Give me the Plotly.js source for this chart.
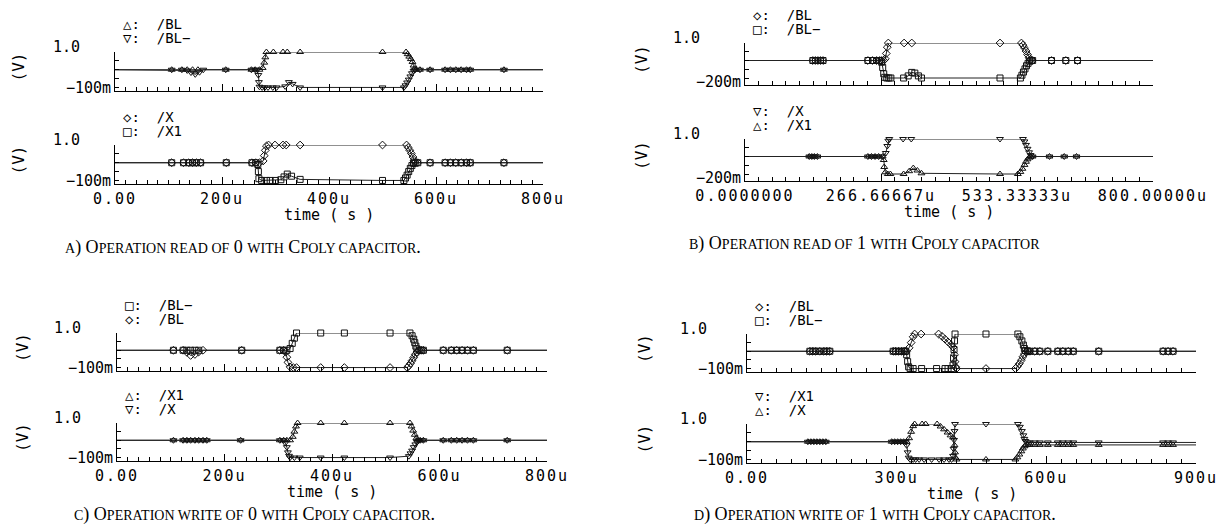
<!DOCTYPE html>
<html><head><meta charset="utf-8">
<script src="https://cdn.plot.ly/plotly-3.0.1.min.js"></script>
<style>html,body{margin:0;padding:0;background:#fff}</style>
</head><body><div id="chart" style="width:1231px;height:529px"></div>
<script>
// ---------------- DATA (time in µs, voltage in V) ----------------
const NAME_BL = '/BL', NAME_BLB = '/BL−', NAME_X = '/X', NAME_X1 = '/X1';
const X_TITLE = 'time ( s )', Y_TITLE = '(V)';

const A_X_TICKS = [0, 200, 400, 600, 800];
const A_X_LABELS = ['0.00', '200u', '400u', '600u', '800u'];
const B_X_TICKS = [0, 266.66667, 533.33333, 800];
const B_X_LABELS = ['0.0000000', '266.66667u', '533.33333u', '800.00000u'];
const C_X_TICKS = [0, 200, 400, 600, 800];
const C_X_LABELS = ['0.00', '200u', '400u', '600u', '800u'];
const D_X_TICKS = [0, 300, 600, 900];
const D_X_LABELS = ['0.00', '300u', '600u', '900u'];
const Y_TICKS_100 = [-0.1, 1.0], Y_LABELS_100 = ['−100m', '1.0'];
const Y_TICKS_200 = [-0.2, 1.0], Y_LABELS_200 = ['−200m', '1.0'];

const CAP_A = 'a) Operation read of 0 with Cpoly capacitor.';
const CAP_B = 'b) Operation read of 1 with Cpoly capacitor';
const CAP_C = 'c) Operation write of 0 with Cpoly capacitor.';
const CAP_D = 'd) Operation write of 1 with Cpoly capacitor.';

// A) read 0 — top: /BL, /BL−
const A_T_BL = [106,125,135,145,155,207,255,262,270,276,279,281,283,296,314,322,346,500,544,547,550,553,556,558,560,563,570,589,617,627,637,647,657,664,727];
const A_V_BL = [0.5,0.5,0.5,0.5,0.5,0.5,0.5,0.5,0.5,0.55,0.7,0.85,1.0,1.0,1.0,1.0,1.0,1.0,1.0,0.94,0.87,0.8,0.72,0.62,0.53,0.5,0.5,0.5,0.5,0.5,0.5,0.5,0.5,0.5,0.5];
const A_T_BLB = [106,125,135,142,150,158,165,207,255,262,266,268,269,270,275,280,286,295,302,318,325,332,346,500,540,543,546,549,552,555,558,561,570,589,617,627,637,647,657,664,727];
const A_V_BLB = [0.5,0.5,0.48,0.42,0.37,0.43,0.5,0.5,0.5,0.5,0.5,0.35,0.15,0.02,0.0,0.0,0.0,0.0,0.0,0.03,0.15,0.1,0.0,0.0,0.0,0.06,0.14,0.22,0.31,0.4,0.47,0.5,0.5,0.5,0.5,0.5,0.5,0.5,0.5,0.5,0.5];
// A) bottom: /X, /X1
const A_T_X = [106,128,138,145,152,160,208,256,263,270,277,279,281,283,287,299,314,320,346,500,545,548,551,554,557,559,561,566,589,617,627,637,647,657,664,727];
const A_V_X = [0.5,0.5,0.5,0.5,0.5,0.5,0.5,0.5,0.5,0.5,0.55,0.7,0.85,0.97,1.0,1.0,1.0,1.0,1.0,1.0,1.0,0.93,0.85,0.76,0.66,0.57,0.51,0.5,0.5,0.5,0.5,0.5,0.5,0.5,0.5,0.5];
const A_T_X1 = [106,128,138,145,152,160,208,256,263,267,268,269,274,283,290,300,310,316,322,330,346,500,540,543,546,549,552,555,558,561,566,589,617,627,637,647,657,664,727];
const A_V_X1 = [0.5,0.5,0.5,0.5,0.5,0.5,0.5,0.5,0.5,0.45,0.25,0.05,0.0,0.0,0.0,0.0,0.02,0.1,0.18,0.12,0.03,0.0,0.0,0.07,0.15,0.25,0.34,0.42,0.48,0.5,0.5,0.5,0.5,0.5,0.5,0.5,0.5,0.5,0.5];

// B) read 1 — top: /BL, /BL−
const B_T_BL = [133,138,143,148,153,241,250,258,264,268,272,275,277,279,281,312,327,500,542,545,548,551,554,557,560,564,601,629,652];
const B_V_BL = [0.5,0.5,0.5,0.5,0.5,0.5,0.5,0.5,0.5,0.5,0.5,0.55,0.7,0.88,1.0,1.0,1.0,1.0,1.0,0.94,0.86,0.77,0.67,0.58,0.52,0.5,0.5,0.5,0.5];
const B_T_BLB = [133,138,143,148,153,241,250,258,264,268,270,272,274,278,282,286,311,320,327,333,340,346,500,540,543,546,549,552,555,558,561,564,601,629,652];
const B_V_BLB = [0.5,0.5,0.5,0.5,0.5,0.5,0.5,0.5,0.5,0.45,0.3,0.12,0.02,0.0,0.0,0.0,0.0,0.06,0.16,0.14,0.06,0.0,0.0,0.0,0.08,0.17,0.26,0.35,0.42,0.48,0.5,0.5,0.5,0.5,0.5];
// B) bottom: /X, /X1
const B_T_X = [126,131,136,142,241,248,255,262,270,276,279,281,283,310,326,500,545,548,551,554,557,560,564,597,626,650];
const B_V_X = [0.5,0.5,0.5,0.5,0.5,0.5,0.5,0.5,0.5,0.6,0.8,0.95,1.0,1.0,1.0,1.0,1.0,0.93,0.83,0.72,0.62,0.54,0.5,0.5,0.5,0.5];
const B_T_X1 = [126,131,136,142,241,248,255,262,270,272,273,275,280,285,311,322,330,338,346,500,535,540,544,548,551,554,557,560,564,597,626,650];
const B_V_X1 = [0.5,0.5,0.5,0.5,0.5,0.5,0.5,0.5,0.5,0.4,0.2,0.05,0.0,0.0,0.0,0.08,0.17,0.1,0.02,0.0,0.0,0.06,0.15,0.26,0.35,0.42,0.47,0.5,0.5,0.5,0.5,0.5];

// C) write 0 — top: /BL−, /BL
const C_T_BLB = [105,123,130,137,145,152,232,303,310,316,322,326,330,334,379,423,508,545,549,552,554,556,558,562,566,570,607,622,632,642,652,663,726];
const C_V_BLB = [0.5,0.5,0.5,0.5,0.5,0.5,0.5,0.5,0.5,0.5,0.55,0.7,0.85,1.0,1.0,1.0,1.0,1.0,0.92,0.82,0.72,0.62,0.54,0.5,0.5,0.5,0.5,0.5,0.5,0.5,0.5,0.5,0.5];
const C_T_BL = [105,123,130,137,145,152,160,232,303,310,314,316,318,322,328,334,379,423,508,540,543,546,549,552,555,558,562,566,570,607,622,632,642,652,663,726];
const C_V_BL = [0.5,0.5,0.44,0.35,0.38,0.45,0.5,0.5,0.5,0.5,0.45,0.3,0.15,0.02,0.0,0.0,0.0,0.0,0.0,0.0,0.05,0.12,0.2,0.29,0.38,0.45,0.5,0.5,0.5,0.5,0.5,0.5,0.5,0.5,0.5,0.5];
// C) bottom: /X1, /X
const C_T_X1 = [105,123,130,137,145,152,160,167,230,303,310,316,322,327,330,333,336,379,423,508,545,548,551,554,557,560,564,570,607,622,632,642,652,663,726];
const C_V_X1 = [0.5,0.5,0.5,0.5,0.5,0.5,0.5,0.5,0.5,0.5,0.5,0.5,0.5,0.6,0.75,0.9,1.0,1.0,1.0,1.0,1.0,0.9,0.78,0.66,0.56,0.5,0.5,0.5,0.5,0.5,0.5,0.5,0.5,0.5,0.5];
const C_T_X = [105,123,130,137,145,152,160,167,230,303,310,313,316,318,320,322,330,340,379,423,508,543,546,549,552,555,558,561,564,570,607,622,632,642,652,663,726];
const C_V_X = [0.5,0.5,0.5,0.5,0.5,0.5,0.5,0.5,0.5,0.5,0.5,0.42,0.3,0.15,0.05,0.0,0.0,0.0,0.0,0.0,0.0,0.04,0.12,0.2,0.3,0.38,0.45,0.5,0.5,0.5,0.5,0.5,0.5,0.5,0.5,0.5,0.5];

// D) write 1 — top: /BL, /BL−
const D_T_BL = [126,132,138,146,154,160,166,293,298,304,310,315,320,325,329,333,336,349,384,391,397,403,409,413,416,417,418,420,479,538,542,546,550,553,556,559,563,567,577,587,603,623,633,644,654,705,834,844,854];
const D_V_BL = [0.5,0.5,0.5,0.5,0.5,0.5,0.5,0.5,0.5,0.5,0.5,0.5,0.5,0.6,0.75,0.92,1.0,1.0,1.0,0.93,0.85,0.77,0.69,0.62,0.4,0.2,0.05,0.0,0.0,0.0,0.06,0.14,0.24,0.34,0.42,0.48,0.5,0.5,0.5,0.5,0.5,0.5,0.5,0.5,0.5,0.5,0.5,0.5,0.5];
const D_T_BLB = [126,132,138,146,154,160,166,293,298,304,310,315,318,320,322,324,327,333,350,380,397,403,410,413,414,415,416,417,479,543,547,551,554,556,558,562,567,577,587,603,623,633,644,654,705,834,844,854];
const D_V_BLB = [0.5,0.5,0.5,0.5,0.5,0.5,0.5,0.5,0.5,0.5,0.5,0.5,0.5,0.4,0.2,0.05,0.0,0.0,0.0,0.0,0.0,0.0,0.0,0.1,0.3,0.55,0.8,1.0,1.0,1.0,0.92,0.8,0.68,0.58,0.52,0.5,0.5,0.5,0.5,0.5,0.5,0.5,0.5,0.5,0.5,0.5,0.5,0.5];
// D) bottom: /X1, /X
const D_T_X1 = [122,128,134,140,146,152,158,290,296,302,308,314,318,320,322,324,327,333,338,345,355,370,385,395,405,410,413,414,415,416,417,479,543,547,551,554,556,558,562,567,577,587,603,623,633,644,654,705,834,844,854];
const D_V_X1 = [0.5,0.5,0.5,0.5,0.5,0.5,0.5,0.5,0.5,0.5,0.5,0.5,0.5,0.4,0.2,0.05,0.0,0.0,0.0,0.0,0.0,0.0,0.0,0.0,0.0,0.0,0.1,0.3,0.55,0.8,1.0,1.0,1.0,0.92,0.8,0.68,0.58,0.52,0.48,0.48,0.48,0.48,0.48,0.48,0.48,0.48,0.48,0.48,0.48,0.48,0.48];
const D_T_X = [122,128,134,140,146,152,158,290,296,302,308,314,320,325,329,333,336,351,358,381,388,395,402,408,413,416,417,418,420,479,538,542,546,550,553,556,559,563,567,577,587,603,623,633,644,654,705,834,844,854];
const D_V_X = [0.5,0.5,0.5,0.5,0.5,0.5,0.5,0.5,0.5,0.5,0.5,0.5,0.5,0.6,0.78,0.94,1.0,1.0,1.0,1.0,0.93,0.85,0.76,0.68,0.62,0.4,0.2,0.05,0.0,0.0,0.0,0.06,0.14,0.23,0.31,0.37,0.4,0.41,0.41,0.41,0.41,0.41,0.41,0.41,0.41,0.41,0.41,0.41,0.41,0.41];

// ---------------- LAYOUT / DRAWING ----------------
const W = 1231, H = 529;
const fx = x => x / W, fy = y => 1 - y / H;
const MONO = 'DejaVu Sans Mono, monospace';
const SERIF = 'Liberation Serif, Times New Roman, serif';
const GLYPH = {'triangle-up': '△', 'triangle-down': '▽', 'diamond': '◇', 'square': '□'};

const panels = [
  {left:115, right:543, rows:[[52,91],[145,184]], xTicks:A_X_TICKS, xLabels:A_X_LABELS, minorX:20,
   yTicks:Y_TICKS_100, yLabels:Y_LABELS_100, oneShift:-33, vX:18, cap:CAP_A, capX:63, capY:247,
   series:[[{t:A_T_BL,v:A_V_BL,n:NAME_BL,s:'triangle-up'},{t:A_T_BLB,v:A_V_BLB,n:NAME_BLB,s:'triangle-down'}],
           [{t:A_T_X,v:A_V_X,n:NAME_X,s:'diamond'},{t:A_T_X1,v:A_V_X1,n:NAME_X1,s:'square'}]]},
  {left:745, right:1153, rows:[[43,85],[139,181]], xTicks:B_X_TICKS, xLabels:B_X_LABELS, minorX:26.666667,
   yTicks:Y_TICKS_200, yLabels:Y_LABELS_200, oneShift:-43, vX:642, cap:CAP_B, capX:687, capY:244,
   series:[[{t:B_T_BL,v:B_V_BL,n:NAME_BL,s:'diamond'},{t:B_T_BLB,v:B_V_BLB,n:NAME_BLB,s:'square'}],
           [{t:B_T_X,v:B_V_X,n:NAME_X,s:'triangle-down'},{t:B_T_X1,v:B_V_X1,n:NAME_X1,s:'triangle-up'}]]},
  {left:117, right:547, rows:[[333,371],[423,461]], xTicks:C_X_TICKS, xLabels:C_X_LABELS, minorX:20,
   yTicks:Y_TICKS_100, yLabels:Y_LABELS_100, oneShift:-34, vX:22, cap:CAP_C, capX:72, capY:514,
   series:[[{t:C_T_BLB,v:C_V_BLB,n:NAME_BLB,s:'square'},{t:C_T_BL,v:C_V_BL,n:NAME_BL,s:'diamond'}],
           [{t:C_T_X1,v:C_V_X1,n:NAME_X1,s:'triangle-up'},{t:C_T_X,v:C_V_X,n:NAME_X,s:'triangle-down'}]]},
  {left:747, right:1196, rows:[[334,372],[424,463]], xTicks:D_X_TICKS, xLabels:D_X_LABELS, minorX:30,
   yTicks:Y_TICKS_100, yLabels:Y_LABELS_100, oneShift:-38, vX:644, cap:CAP_D, capX:692, capY:514,
   series:[[{t:D_T_BL,v:D_V_BL,n:NAME_BL,s:'diamond'},{t:D_T_BLB,v:D_V_BLB,n:NAME_BLB,s:'square'}],
           [{t:D_T_X1,v:D_V_X1,n:NAME_X1,s:'triangle-down'},{t:D_T_X,v:D_V_X,n:NAME_X,s:'triangle-up'}]]}
];

function smallCaps(s, small) {
  let out = '', i = 0;
  const isLow = c => c !== c.toUpperCase();
  while (i < s.length) {
    if (isLow(s[i])) {
      let j = i; while (j < s.length && (isLow(s[j]) || (s[j] === ' ' && j + 1 < s.length && isLow(s[j + 1])))) j++;
      out += '<span style="font-size:' + small + 'px">' + s.slice(i, j).toUpperCase() + '</span>';
      i = j;
    } else { out += s[i]; i++; }
  }
  return out;
}

const data = [], layout = {
  width: W, height: H, margin: {l:0, r:0, t:0, b:0}, showlegend: false,
  paper_bgcolor: '#fff', plot_bgcolor: '#fff', annotations: []
};
const ann = layout.annotations;
let k = 0;
panels.forEach(p => {
  const xMax = p.xTicks[p.xTicks.length - 1];
  p.rows.forEach((row, ri) => {
    k++;
    const xa = 'xaxis' + (k > 1 ? k : ''), ya = 'yaxis' + (k > 1 ? k : '');
    const xr = 'x' + (k > 1 ? k : ''), yr = 'y' + (k > 1 ? k : '');
    layout[xa] = {
      domain: [fx(p.left), fx(p.right)], anchor: yr, range: [0, xMax],
      showline: true, linecolor: '#000', linewidth: 1, showgrid: false, zeroline: false,
      tickmode: 'array', tickvals: p.xTicks,
      ticktext: p.xLabels.map(s => '<span style="letter-spacing:2px">' + s + '</span>'),
      showticklabels: ri === 1, ticks: 'inside', ticklen: 7, tickcolor: '#000', tickwidth: 1,
      ticklabelstandoff: 1,
      tickfont: {family: MONO, size: 15, color: '#000'},
      minor: {tickmode: 'linear', tick0: 0, dtick: p.minorX, ticks: 'inside', ticklen: 4, tickcolor: '#000', tickwidth: 1, showgrid: false},
      fixedrange: true
    };
    layout[ya] = {
      domain: [fy(row[1]), fy(row[0])], anchor: xr, range: [p.yTicks[0], p.yTicks[1]],
      showline: true, linecolor: '#000', linewidth: 1, showgrid: false, zeroline: false,
      tickmode: 'array', tickvals: p.yTicks, showticklabels: false,
      ticks: 'inside', ticklen: 6, tickcolor: '#000', tickwidth: 1,
      minor: {tickmode: 'linear', tick0: 0, dtick: 0.25, ticks: 'inside', ticklen: 4, tickcolor: '#000', tickwidth: 1, showgrid: false},
      fixedrange: true
    };
    p.series[ri].forEach((s, si) => {
      const n = s.t.length;
      const x = [0].concat(s.t, [xMax]);
      const y = [s.v[0]].concat(s.v, [s.v[n - 1]]);
      const vis = x.map((_, i) => (i === 0 || i === x.length - 1) ? 0 : 1);
      data.push({
        type: 'scatter', mode: 'lines+markers', x: x, y: y, xaxis: xr, yaxis: yr, name: s.n,
        cliponaxis: false, hoverinfo: 'skip',
        line: {color: '#222', width: 1},
        marker: {symbol: s.s + '-open', size: vis.map(a => a ? 6 : 0), opacity: vis,
                 color: '#111', line: {color: '#111', width: 1}}
      });
      ann.push({xref: 'paper', yref: 'paper', x: fx(p.left + 6), y: fy(row[0] - (si === 0 ? 28 : 14)),
        xanchor: 'left', yanchor: 'middle', showarrow: false,
        text: GLYPH[s.s] + ':  ' + s.n, font: {family: MONO, size: 14, color: '#000'}});
    });
    ann.push({xref: 'paper', yref: yr, x: fx(p.left), y: p.yTicks[0], xanchor: 'right', yanchor: 'middle',
      xshift: -2, yshift: 3, showarrow: false, text: p.yLabels[0], font: {family: MONO, size: 15, color: '#000'}});
    ann.push({xref: 'paper', yref: yr, x: fx(p.left), y: p.yTicks[1], xanchor: 'right', yanchor: 'middle',
      xshift: p.oneShift, yshift: 5, showarrow: false, text: p.yLabels[1], font: {family: MONO, size: 15, color: '#000'}});
    ann.push({xref: 'paper', yref: 'paper', x: fx(p.vX), y: fy((row[0] + row[1]) / 2 - 4), xanchor: 'center', yanchor: 'middle',
      textangle: -90, showarrow: false, text: Y_TITLE, font: {family: MONO, size: 16, color: '#000'}});
    if (ri === 1) {
      ann.push({xref: 'paper', yref: 'paper', x: fx((p.left + p.right) / 2), y: fy(row[1] + 31),
        xanchor: 'center', yanchor: 'middle', showarrow: false, text: X_TITLE,
        font: {family: MONO, size: 15, color: '#000'}});
    }
  });
  ann.push({xref: 'paper', yref: 'paper', x: fx(p.capX), y: fy(p.capY), xanchor: 'left', yanchor: 'middle',
    showarrow: false, text: smallCaps(p.cap, 14), font: {family: SERIF, size: 18, color: '#000'}});
});

Plotly.newPlot('chart', data, layout, {staticPlot: true, displayModeBar: false});
</script></body></html>
